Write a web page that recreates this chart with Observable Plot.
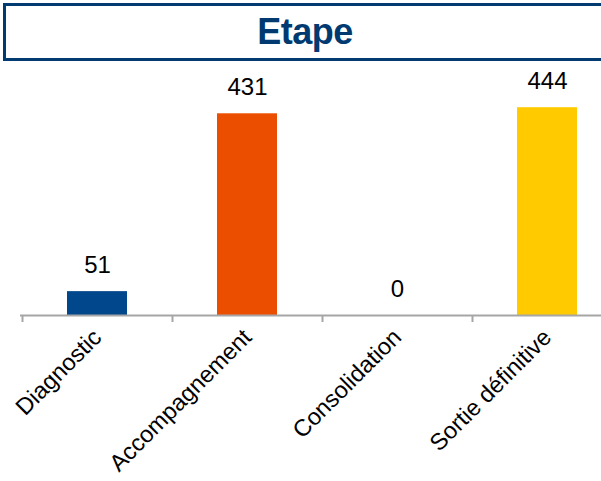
<!DOCTYPE html>
<html>
<head>
<meta charset="utf-8">
<script src="https://cdn.jsdelivr.net/npm/d3@7"></script>
<script src="https://cdn.jsdelivr.net/npm/@observablehq/plot@0.6"></script>
<style>
  html, body { margin: 0; padding: 0; background: #fff; }
  body { width: 601px; height: 481px; overflow: hidden; position: relative; font-family: "Liberation Sans", Arial, sans-serif; }
  #title {
    position: absolute; left: 3px; top: 3px; width: 604px; height: 58px; box-sizing: border-box;
    border: 3px solid #003A70; display: flex; align-items: center; justify-content: center;
    font-size: 36px; font-weight: bold; color: #003A70; letter-spacing: -0.5px;
  }
  #chart { position: absolute; left: 0; top: 61px; }
</style>
</head>
<body>
<div id="title">Etape</div>
<div id="chart"></div>
<script>
const categories = ["Diagnostic", "Accompagnement", "Consolidation", "Sortie définitive"];
const values = [51, 431, 0, 444];
const colors = ["#00478C", "#EC4E00", "#FFFFFF", "#FFCB00"];

const data = categories.map((c, i) => ({category: c, value: values[i], color: colors[i]}));

const chart = Plot.plot({
  width: 601,
  height: 420,
  marginLeft: 20,
  marginRight: 0,
  marginTop: 20,
  marginBottom: 166,
  style: {fontFamily: "Liberation Sans, Arial, sans-serif", color: "#000", background: "transparent"},
  x: {domain: categories, range: [22, 622], paddingInner: 0.6, paddingOuter: 0.3, label: null},
  y: {domain: [0, 500], axis: null},
  marks: [
    Plot.barY(data, {x: "category", y: "value", fill: "color"}),
    Plot.ruleY([0], {stroke: "#A6A6A6", strokeWidth: 2}),
    Plot.axisX({tickSize: 7, dx: -75, tickFormat: () => "", stroke: "#A6A6A6", strokeWidth: 2}),
    Plot.axisX({tickSize: 0, tickRotate: -45, tickPadding: 18, fontSize: 23.5, fill: "#000"}),
    Plot.text(data, {x: "category", y: "value", text: d => String(d.value), dy: -26, fontSize: 24, fill: "#000"})
  ]
});
document.getElementById("chart").appendChild(chart);
</script>
</body>
</html>
